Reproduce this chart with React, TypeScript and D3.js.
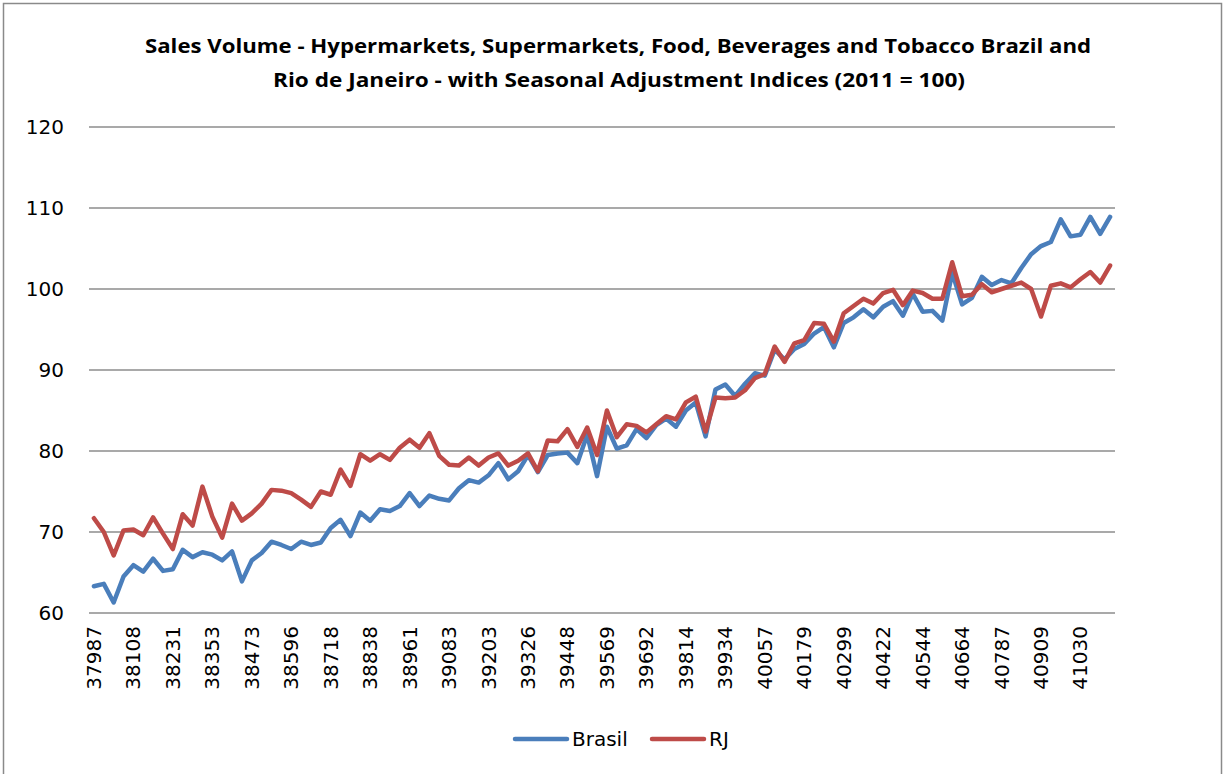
import React from "react";
import * as d3 from "d3";

// Excel date serials, one per month, Jan 2004 .. Aug 2012
const months = [
  37987, 38018, 38047, 38078, 38108, 38139, 38169, 38200, 38231, 38261, 38292, 38322,
  38353, 38384, 38412, 38443, 38473, 38504, 38534, 38565, 38596, 38626, 38657, 38687,
  38718, 38749, 38777, 38808, 38838, 38869, 38899, 38930, 38961, 38991, 39022, 39052,
  39083, 39114, 39142, 39173, 39203, 39234, 39264, 39295, 39326, 39356, 39387, 39417,
  39448, 39479, 39508, 39539, 39569, 39600, 39630, 39661, 39692, 39722, 39753, 39783,
  39814, 39845, 39873, 39904, 39934, 39965, 39995, 40026, 40057, 40087, 40118, 40148,
  40179, 40210, 40238, 40269, 40299, 40330, 40360, 40391, 40422, 40452, 40483, 40513,
  40544, 40575, 40603, 40634, 40664, 40695, 40725, 40756, 40787, 40817, 40848, 40878,
  40909, 40940, 40969, 41000, 41030, 41061, 41091, 41122,
];

const brasil = [
  63.3, 63.6, 61.3, 64.5, 65.9, 65.1, 66.7, 65.2, 65.4, 67.8, 66.9, 67.5,
  67.2, 66.5, 67.6, 63.9, 66.5, 67.4, 68.8, 68.4, 67.9, 68.8, 68.4, 68.7,
  70.5, 71.5, 69.5, 72.4, 71.4, 72.8, 72.6, 73.2, 74.8, 73.2, 74.5, 74.1,
  73.9, 75.4, 76.4, 76.1, 77.0, 78.5, 76.5, 77.5, 79.5, 77.4, 79.5, 79.7,
  79.8, 78.5, 82.0, 76.9, 83.0, 80.3, 80.7, 82.7, 81.6, 83.2, 84.0, 83.0,
  85.0, 86.0, 81.8, 87.6, 88.2, 86.8, 88.3, 89.6, 89.3, 92.5, 91.3, 92.6,
  93.2, 94.5, 95.3, 92.8, 95.8, 96.5, 97.5, 96.5, 97.8, 98.5, 96.7, 99.4,
  97.2, 97.3, 96.1, 102.0, 98.1, 98.9, 101.5, 100.5, 101.1, 100.7, 102.6, 104.3,
  105.3, 105.8, 108.6, 106.5, 106.7, 108.9, 106.8, 108.9,
];

const rj = [
  71.7, 70.0, 67.1, 70.2, 70.3, 69.6, 71.8, 69.8, 67.9, 72.2, 70.8, 75.6,
  71.9, 69.3, 73.5, 71.4, 72.3, 73.5, 75.2, 75.1, 74.8, 74.0, 73.1, 75.0,
  74.6, 77.7, 75.7, 79.6, 78.8, 79.6, 78.9, 80.4, 81.4, 80.4, 82.2, 79.4,
  78.3, 78.2, 79.2, 78.2, 79.2, 79.7, 78.2, 78.8, 79.7, 77.5, 81.3, 81.2,
  82.7, 80.5, 82.9, 79.5, 85.0, 81.7, 83.3, 83.1, 82.3, 83.3, 84.3, 83.9,
  86.0, 86.7, 82.4, 86.6, 86.5, 86.6, 87.5, 89.0, 89.5, 92.9, 91.0, 93.3,
  93.7, 95.8, 95.7, 93.5, 97.0, 97.9, 98.8, 98.2, 99.5, 99.9, 98.0, 99.8,
  99.5, 98.8, 98.8, 103.3, 99.1, 99.3, 100.6, 99.6, 100.0, 100.4, 100.8, 100.0,
  96.6, 100.4, 100.7, 100.2, 101.2, 102.1, 100.8, 102.9,
];

const yTicks = [60, 70, 80, 90, 100, 110, 120];
const seriesNames = ["Brasil", "RJ"];
const titleLines = [
  "Sales Volume - Hypermarkets, Supermarkets, Food, Beverages and Tobacco Brazil and",
  "Rio de Janeiro - with Seasonal Adjustment Indices (2011 = 100)",
];

const W = 1226;
const H = 774;
const colors = ["#4a7ebb", "#be4b48"];
const font = "'DejaVu Sans', sans-serif";

export default function App() {
  const x = d3
    .scaleBand<number>()
    .domain(months)
    .range([89, 1115]);
  const y = d3.scaleLinear().domain([60, 120]).range([613, 127]);
  const cx = (m: number) => (x(m) ?? 0) + x.bandwidth() / 2;

  const line = d3
    .line<number>()
    .x((_, i) => cx(months[i]))
    .y((d) => y(d));

  const data = [brasil, rj];

  return (
    <svg
      width={W}
      height={H}
      style={{ position: "absolute", left: 0, top: 0, background: "#fff" }}
    >
      <rect x={0} y={0} width={W} height={H} fill="#fff" />
      <rect
        x={3.5}
        y={3.5}
        width={1218}
        height={H + 10}
        fill="none"
        stroke="#8a8a8a"
        strokeWidth={1.5}
      />

      {/* title */}
      <g fontFamily="'Open Sans', sans-serif" fontWeight="bold" fontSize={20} fill="#000">
        <text x={618} y={53} textAnchor="middle" textLength={946} lengthAdjust="spacingAndGlyphs">
          {titleLines[0]}
        </text>
        <text x={619} y={87} textAnchor="middle" textLength={692} lengthAdjust="spacingAndGlyphs">
          {titleLines[1]}
        </text>
      </g>

      {/* gridlines + y labels */}
      {yTicks.map((t) => (
        <g key={t}>
          <line x1={89} x2={1115} y1={y(t)} y2={y(t)} stroke="#8c8c8c" strokeWidth={1.5} />
          <text
            x={64}
            y={y(t)}
            textAnchor="end"
            dominantBaseline="central"
            fontFamily={font}
            fontSize={20}
            fill="#000"
          >
            {t}
          </text>
        </g>
      ))}

      {/* x labels */}
      {months.map((m, i) =>
        i % 4 === 0 ? (
          <text
            key={m}
            transform={`translate(${cx(m)},626) rotate(-90)`}
            textAnchor="end"
            dominantBaseline="central"
            fontFamily={font}
            fontSize={20}
            fill="#000"
          >
            {m}
          </text>
        ) : null
      )}

      {/* lines */}
      {data.map((d, k) => (
        <path
          key={seriesNames[k]}
          d={line(d) ?? ""}
          fill="none"
          stroke={colors[k]}
          strokeWidth={4.5}
          strokeLinejoin="round"
          strokeLinecap="round"
        />
      ))}

      {/* legend */}
      {seriesNames.map((n, k) => {
        const lx = [515, 652][k];
        return (
          <g key={n}>
            <line x1={lx} x2={lx + 52} y1={739} y2={739} stroke={colors[k]} strokeWidth={4.5} strokeLinecap="round" />
            <text
              x={lx + 57}
              y={739}
              dominantBaseline="central"
              fontFamily={font}
              fontSize={20}
              fill="#000"
            >
              {n}
            </text>
          </g>
        );
      })}
    </svg>
  );
}
